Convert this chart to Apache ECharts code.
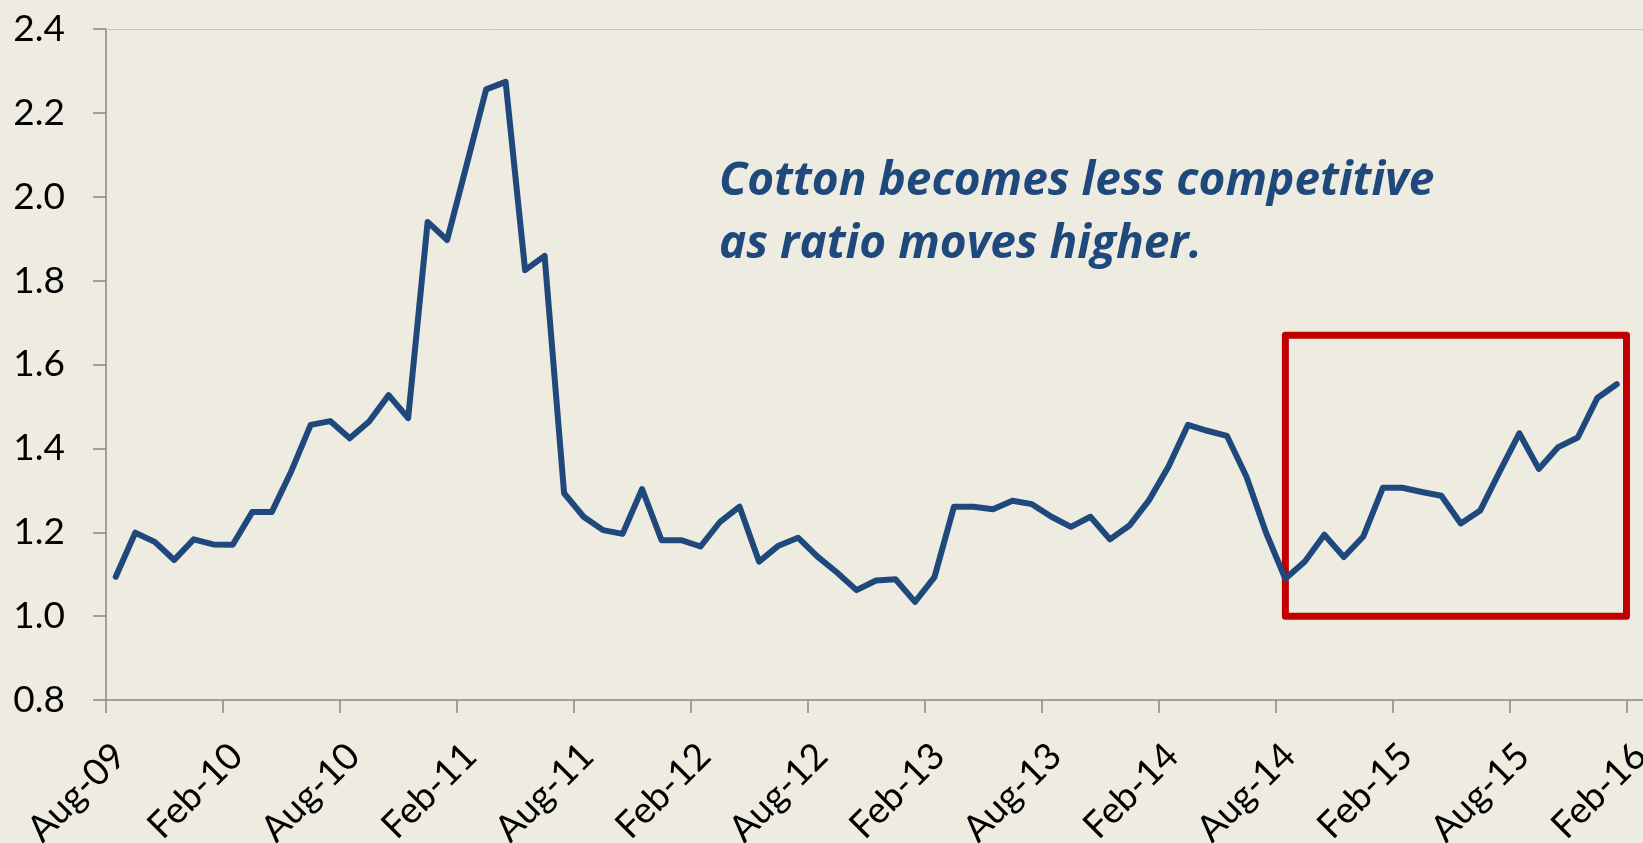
<!DOCTYPE html>
<html>
<head>
<meta charset="utf-8">
<script src="https://cdn.jsdelivr.net/npm/echarts@6/dist/echarts.min.js"></script>
<style>
    html, body { margin: 0; padding: 0; background: #EEECE1; overflow: hidden; }
    #chart { width: 1643px; height: 843px; }
</style>
</head>
<body>
<div id="chart"></div>
<script>
// monthly ratio, Aug-09 .. Jan-16 (one value per month)
const ratio = [
    1.094, 1.199, 1.177, 1.134, 1.183, 1.171, 1.170, 1.248, 1.248, 1.345, 1.456, 1.465,
    1.424, 1.464, 1.527, 1.472, 1.940, 1.897, 2.076, 2.256, 2.274, 1.825, 1.859, 1.293,
    1.237, 1.205, 1.196, 1.303, 1.181, 1.181, 1.166, 1.225, 1.261, 1.130, 1.168, 1.187,
    1.142, 1.104, 1.062, 1.085, 1.088, 1.034, 1.093, 1.261, 1.261, 1.255, 1.275, 1.267,
    1.237, 1.213, 1.237, 1.183, 1.216, 1.276, 1.356, 1.456, 1.442, 1.430, 1.333, 1.200,
    1.089, 1.130, 1.194, 1.141, 1.190, 1.306, 1.306, 1.296, 1.287, 1.221, 1.252, 1.345,
    1.436, 1.351, 1.403, 1.426, 1.520, 1.553
]

// x tick labels, one every 6 months
const tickLabels = ['Aug-09', 'Feb-10', 'Aug-10', 'Feb-11', 'Aug-11', 'Feb-12', 'Aug-12',
    'Feb-13', 'Aug-13', 'Feb-14', 'Aug-14', 'Feb-15', 'Aug-15', 'Feb-16']

// highlighted period (red box)
const boxFrom = 'Aug-14'
const boxTo = 'Feb-16'
const boxLow = 1.0
const boxHigh = 1.67

const note = 'Cotton becomes less competitive\nas ratio moves higher.'

const axisGrey = '#878787'
const navy = '#1F497D'
const fontFamily = "Lato, 'Open Sans', sans-serif"

// month index of each tick; rotated labels hang a bit right of their tick
const labelShift = 0.7
const tickPos = tickLabels.map((_, i) => i * 6)
const labelPos = tickPos.map((p) => p + labelShift)

const chart = echarts.init(document.getElementById('chart'))

const option = {
    backgroundColor: '#EEECE1',
    animation: false,
    title: {
        text: note,
        left: 714,
        top: 145,
        textStyle: {
            color: navy,
            fontFamily: "'Open Sans', Lato, sans-serif",
            fontStyle: 'italic',
            fontWeight: 'bold',
            fontSize: 46,
            lineHeight: 63
        }
    },
    grid: {
        left: 106,
        right: -3,
        top: 29,
        bottom: 143,
        outerBoundsMode: 'none'
    },
    xAxis: {
        type: 'value',
        min: 0,
        max: 79,
        axisLine: { onZero: false, lineStyle: { color: axisGrey, width: 1.5 } },
        axisTick: {
            length: 13,
            customValues: tickPos,
            lineStyle: { color: axisGrey, width: 1.5 }
        },
        axisLabel: {
            customValues: labelPos,
            rotate: 45,
            margin: 50,
            color: '#000',
            fontFamily: fontFamily,
            fontSize: 37,
            formatter: (v) => tickLabels[Math.round((v - labelShift) / 6)] || ''
        },
        splitLine: { show: false }
    },
    yAxis: {
        type: 'value',
        min: 0.8,
        max: 2.4,
        interval: 0.2,
        axisLine: { show: true, onZero: false, lineStyle: { color: axisGrey, width: 1.5 } },
        axisTick: { show: true, length: 13, lineStyle: { color: axisGrey, width: 1.5 } },
        axisLabel: {
            margin: 41,
            color: '#000',
            fontFamily: fontFamily,
            fontSize: 37,
            formatter: (v) => v.toFixed(1)
        },
        splitLine: { show: false }
    },
    series: [
        {
            type: 'line',
            data: ratio.map((v, i) => [i + 0.5, v]),
            showSymbol: false,
            silent: true,
            lineStyle: { color: navy, width: 6, cap: 'round', join: 'round' },
            // thin border along the top of the plot
            markLine: {
                silent: true,
                symbol: 'none',
                label: { show: false },
                lineStyle: { color: '#C9C8C0', width: 1, type: 'solid' },
                data: [{ yAxis: 2.4 }]
            },
            markArea: {
                silent: true,
                label: { show: false },
                itemStyle: {
                    color: 'rgba(0,0,0,0)',
                    borderColor: '#C00000',
                    borderWidth: 7,
                    borderJoin: 'round'
                },
                data: [[
                    { coord: [tickPos[tickLabels.indexOf(boxFrom)] + 0.5, boxLow] },
                    { coord: [tickPos[tickLabels.indexOf(boxTo)], boxHigh] }
                ]]
            }
        }
    ]
}

chart.setOption(option)
</script>
</body>
</html>
